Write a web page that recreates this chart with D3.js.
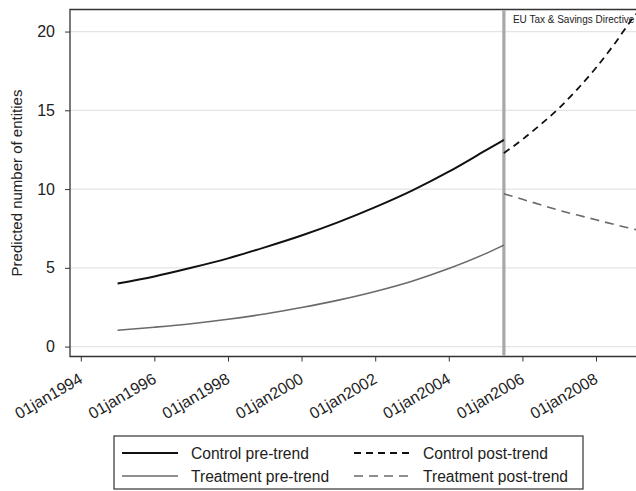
<!DOCTYPE html>
<html>
<head>
<meta charset="utf-8">
<script src="https://cdn.jsdelivr.net/npm/d3@7"></script>
<style>
  html, body { margin: 0; padding: 0; background: #fff; }
  svg { display: block; font-family: "Liberation Sans", Arial, Helvetica, sans-serif; }
</style>
</head>
<body>
<svg id="chart" width="636" height="491"></svg>
<script>
// Predicted number of entities, before and after the EU Tax & Savings Directive
const preDates = ["1995-01-01","1996-01-01","1997-01-01","1998-01-01","1999-01-01","2000-01-01",
                  "2001-01-01","2002-01-01","2003-01-01","2004-01-01","2005-01-01","2005-07-01"];
const controlPre   = [4.0, 4.45, 5.0, 5.6, 6.3, 7.05, 7.9, 8.85, 9.9, 11.1, 12.45, 13.12];
const treatmentPre = [1.04, 1.23, 1.45, 1.73, 2.07, 2.48, 2.95, 3.5, 4.15, 4.95, 5.9, 6.44];

const postDates = ["2005-07-01","2006-01-01","2006-07-01","2007-01-01","2007-07-01",
                   "2008-01-01","2008-07-01","2009-01-01","2009-03-01"];
const controlPost   = [12.28, 13.15, 14.1, 15.15, 16.35, 17.7, 19.2, 20.85, 21.3];
const treatmentPost = [9.7, 9.35, 9.0, 8.65, 8.35, 8.05, 7.75, 7.47, 7.38];

const directiveDate = "2005-07-01";
const directiveLabel = "EU Tax & Savings Directive";

const yTicks = [0, 5, 10, 15, 20];
const xTickDates = ["1994-01-01","1996-01-01","1998-01-01","2000-01-01",
                    "2002-01-01","2004-01-01","2006-01-01","2008-01-01"];

const seriesNames = ["Control pre-trend", "Treatment pre-trend", "Control post-trend", "Treatment post-trend"];

const parse = d3.utcParse("%Y-%m-%d");
const fmt = d3.utcFormat("%d%b%Y");
const label = d => fmt(d).toLowerCase();

const svg = d3.select("#chart");
const plotLeft = 70, plotRight = 636, plotTop = 9.5, plotBottom = 356.5;

const x = d3.scaleUtc()
  .domain([parse("1993-09-16"), parse("2009-02-01")])
  .range([plotLeft, plotRight]);
const y = d3.scaleLinear()
  .domain([-0.63, 21.4])
  .range([plotBottom, plotTop]);

const styles = [
  { color: "#111", width: 2.0, dash: null },
  { color: "#6a6a6a", width: 1.6, dash: null },
  { color: "#111", width: 1.8, dash: "7,5" },
  { color: "#6a6a6a", width: 1.6, dash: "9,6" }
];

svg.append("defs").append("clipPath").attr("id", "plotclip")
  .append("rect").attr("x", plotLeft).attr("y", plotTop)
  .attr("width", plotRight - plotLeft).attr("height", plotBottom - plotTop);

// gridlines
svg.append("g").selectAll("line").data(yTicks).join("line")
  .attr("x1", plotLeft).attr("x2", plotRight)
  .attr("y1", d => y(d)).attr("y2", d => y(d))
  .attr("stroke", "#e4e4e4").attr("stroke-width", 1.2);

// y axis
const yAxis = svg.append("g")
  .attr("transform", `translate(${plotLeft},0)`)
  .call(d3.axisLeft(y).tickValues(yTicks).tickSize(5).tickPadding(10).tickFormat(d3.format("d")));
yAxis.select(".domain").remove();
yAxis.selectAll(".tick line").attr("stroke", "#333");
yAxis.selectAll(".tick text").attr("font-size", 16).attr("fill", "#222")
  .attr("font-family", "'Liberation Sans', Arial, sans-serif");

// x axis
const xAxis = svg.append("g")
  .attr("transform", `translate(0,${plotBottom})`)
  .call(d3.axisBottom(x).tickValues(xTickDates.map(parse)).tickSize(5).tickFormat(label));
xAxis.select(".domain").remove();
xAxis.selectAll(".tick line").attr("stroke", "#333");
xAxis.selectAll(".tick text")
  .attr("font-size", 16).attr("fill", "#222")
  .attr("font-family", "'Liberation Sans', Arial, sans-serif")
  .attr("text-anchor", "end")
  .attr("y", 0).attr("dy", 0)
  .attr("transform", "translate(2.5,25.5) rotate(-30)");

// plot frame
svg.append("path")
  .attr("d", `M${plotRight + 2},${plotTop}H${plotLeft}V${plotBottom}H${plotRight + 2}`)
  .attr("fill", "none").attr("stroke", "#333").attr("stroke-width", 1.3);

// y axis title
svg.append("text")
  .attr("transform", `translate(22,${(plotTop + plotBottom) / 2}) rotate(-90)`)
  .attr("text-anchor", "middle")
  .attr("font-size", 15).attr("fill", "#222")
  .text("Predicted number of entities");

// directive marker
svg.append("line")
  .attr("x1", x(parse(directiveDate))).attr("x2", x(parse(directiveDate)))
  .attr("y1", plotTop + 0.7).attr("y2", plotBottom - 0.7)
  .attr("stroke", "#a8a8a8").attr("stroke-width", 3.2);
svg.append("text")
  .attr("x", x(parse(directiveDate)) + 9).attr("y", 22.5)
  .attr("font-size", 10).attr("fill", "#222")
  .text(directiveLabel);

// series
const line = d3.line().x(d => x(d[0])).y(d => y(d[1])).curve(d3.curveMonotoneX);
const series = [
  preDates.map((d, i) => [parse(d), controlPre[i]]),
  preDates.map((d, i) => [parse(d), treatmentPre[i]]),
  postDates.map((d, i) => [parse(d), controlPost[i]]),
  postDates.map((d, i) => [parse(d), treatmentPost[i]])
];
const plot = svg.append("g").attr("clip-path", "url(#plotclip)");
plot.selectAll("path").data(series).join("path")
  .attr("d", line)
  .attr("fill", "none")
  .attr("stroke", (d, i) => styles[i].color)
  .attr("stroke-width", (d, i) => styles[i].width)
  .attr("stroke-dasharray", (d, i) => styles[i].dash);

// legend
const legend = svg.append("g");
legend.append("rect")
  .attr("x", 114).attr("y", 436).attr("width", 469).attr("height", 53)
  .attr("fill", "#fff").attr("stroke", "#333").attr("stroke-width", 1.2);
const legendItems = [
  { name: seriesNames[0], s: styles[0], col: 0, row: 0 },
  { name: seriesNames[2], s: styles[2], col: 1, row: 0 },
  { name: seriesNames[1], s: styles[1], col: 0, row: 1 },
  { name: seriesNames[3], s: styles[3], col: 1, row: 1 }
];
const colX = [122, 354], rowY = [453, 476];
const li = legend.selectAll("g.item").data(legendItems).join("g").attr("class", "item")
  .attr("transform", d => `translate(${colX[d.col]},${rowY[d.row]})`);
li.append("line")
  .attr("x1", 0).attr("x2", 56).attr("y1", 0).attr("y2", 0)
  .attr("stroke", d => d.s.color).attr("stroke-width", d => d.s.width)
  .attr("stroke-dasharray", d => d.s.dash);
li.append("text")
  .attr("x", 69).attr("y", 0).attr("dy", "0.36em")
  .attr("font-size", 15.6).attr("fill", "#222")
  .text(d => d.name);
</script>
</body>
</html>
